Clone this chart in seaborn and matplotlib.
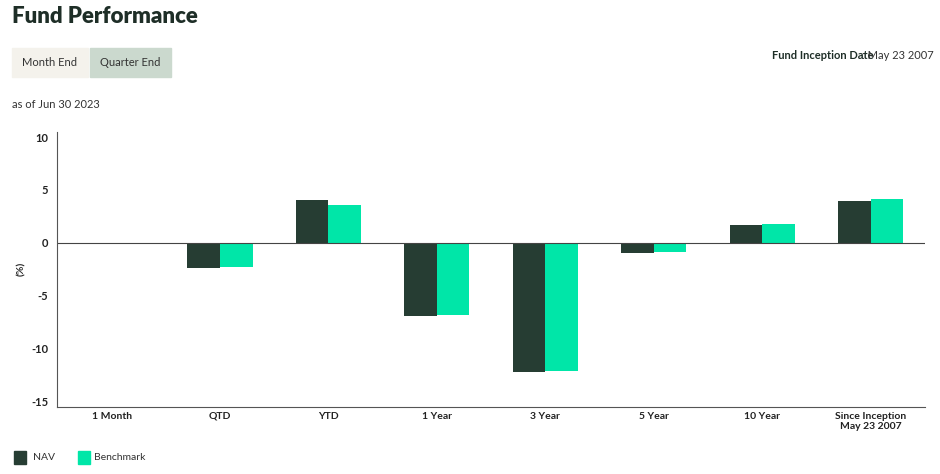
import matplotlib
matplotlib.use("Agg")
import matplotlib.pyplot as plt
import seaborn as sns
import pandas as pd
from matplotlib.patches import Rectangle

categories = ["1 Month", "QTD", "YTD", "1 Year", "3 Year", "5 Year", "10 Year", "Since Inception\nMay 23 2007"]
nav = [0.0, -2.4, 4.05, -6.9, -12.2, -0.95, 1.7, 4.0]
benchmark = [0.0, -2.3, 3.6, -6.85, -12.15, -0.85, 1.75, 4.15]
yticks = [10, 5, 0, -5, -10, -15]

df = pd.DataFrame({"Period": categories * 2, "Value": nav + benchmark,
                   "Series": ["NAV"] * len(nav) + ["Benchmark"] * len(benchmark)})

sns.set_style("white")
plt.rcParams['font.family'] = ['Lato', 'DejaVu Sans']
fig = plt.figure(figsize=(9.4, 4.74), dpi=100)
ax = fig.add_axes([0.061, 0.142, 0.923, 0.58])
sns.barplot(data=df, x="Period", y="Value", hue="Series", palette=["#263d33", "#00e6a8"],
            width=0.6, ax=ax, legend=False, saturation=1, linewidth=0)
ax.set_ylim(-15.5, 10.5)
ax.set_yticks(yticks)
ax.set_yticklabels([str(t) for t in yticks], fontsize=8, fontweight="bold", color="#222")
ax.tick_params(axis="x", labelsize=7.5, colors="#222", length=0)
for l in ax.get_xticklabels():
    l.set_fontweight("bold")
ax.tick_params(axis="y", length=3, color="#555")
ax.set_xlabel("")
ax.set_ylabel("(%)", fontsize=7.5, fontweight="bold")
ax.axhline(0, color="#444", lw=0.8)
for s in ["top", "right"]:
    ax.spines[s].set_visible(False)
for s in ["left", "bottom"]:
    ax.spines[s].set_color("#555"); ax.spines[s].set_linewidth(0.8)

fig.text(0.013, 0.965, "Fund Performance", fontsize=16, fontweight="heavy", color="#1e2e27", va="center")
fig.patches.append(Rectangle((0.013, 0.838), 0.081, 0.06, transform=fig.transFigure, color="#f4f2ec"))
fig.patches.append(Rectangle((0.096, 0.838), 0.086, 0.06, transform=fig.transFigure, color="#cbd9ce"))
fig.text(0.053, 0.868, "Month End", fontsize=8, ha="center", va="center", color="#333")
fig.text(0.139, 0.868, "Quarter End", fontsize=8, ha="center", va="center", color="#333")
fig.text(0.013, 0.78, "as of Jun 30 2023", fontsize=8, va="center", color="#333")
fig.text(0.929, 0.883, "Fund Inception Date", fontsize=8, fontweight="bold", ha="right", va="center", color="#1e2e27")
fig.text(0.993, 0.883, ": May 23 2007", fontsize=8, ha="right", va="center", color="#333")

fig.patches.append(Rectangle((0.015, 0.022), 0.013, 0.026, transform=fig.transFigure, color="#263d33"))
fig.text(0.035, 0.035, "NAV", fontsize=7.5, va="center", color="#333")
fig.patches.append(Rectangle((0.083, 0.022), 0.013, 0.026, transform=fig.transFigure, color="#00e6a8"))
fig.text(0.1, 0.035, "Benchmark", fontsize=7.5, va="center", color="#333")
fig.savefig("out.png", dpi=100)
